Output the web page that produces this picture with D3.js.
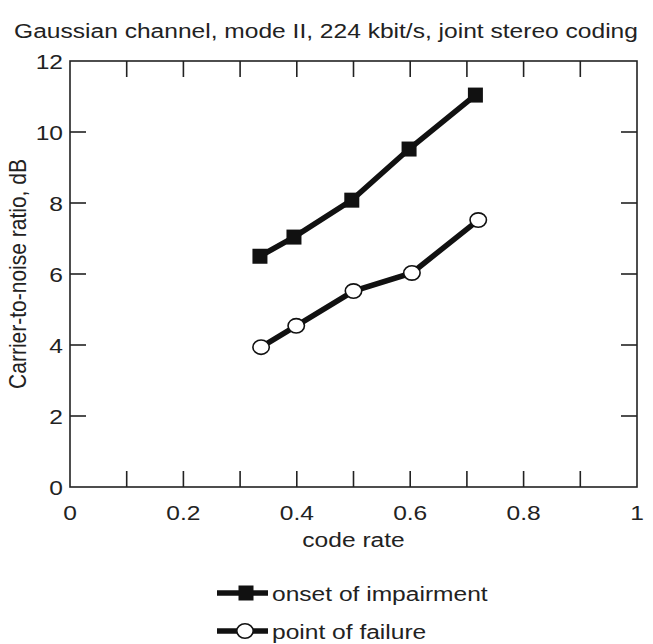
<!DOCTYPE html>
<html>
<head>
<meta charset="utf-8">
<script src="https://cdn.jsdelivr.net/npm/d3@7/dist/d3.min.js"></script>
<style>
  body { margin: 0; background: #fff; }
  text { font-family: "Liberation Sans", Arial, sans-serif; fill: #222; }
</style>
</head>
<body>
<svg width="653" height="644"></svg>
<script>
// data
var rateImpair = [0.335, 0.395, 0.497, 0.598, 0.715];
var cnrImpair  = [6.5, 7.04, 8.08, 9.52, 11.04];
var rateFail   = [0.337, 0.399, 0.5, 0.603, 0.72];
var cnrFail    = [3.94, 4.54, 5.52, 6.03, 7.52];
var xTicks  = [0.1, 0.2, 0.3, 0.4, 0.5, 0.6, 0.7, 0.8, 0.9];
var xLabels = [0, 0.2, 0.4, 0.6, 0.8, 1];
var yTicks  = [2, 4, 6, 8, 10];
var yLabels = [0, 2, 4, 6, 8, 10, 12];
var seriesNames = ["onset of impairment", "point of failure"];

var svg = d3.select("svg"),
    margin = {top: 61, right: 16, bottom: 157, left: 70},
    width = 653 - margin.left - margin.right,
    height = 644 - margin.top - margin.bottom,
    stretch = 1.17,   // the reference text is horizontally widened
    fs = 21;

var x = d3.scaleLinear().domain([0, 1]).range([0, width]);
var y = d3.scaleLinear().domain([0, 12]).range([height, 0]);

var g = svg.append("g")
    .attr("transform", "translate(" + margin.left + "," + margin.top + ")");

function label(sel, px, py, txt, anchor, rot) {
  return sel.append("text")
    .attr("transform", "translate(" + px + "," + py + ") scale(" + stretch + ",1)" + (rot ? " rotate(" + rot + ")" : ""))
    .attr("text-anchor", anchor || "middle")
    .style("font-size", fs + "px")
    .text(txt);
}

// frame
g.append("rect")
    .attr("width", width).attr("height", height)
    .attr("fill", "none").attr("stroke", "#222").attr("stroke-width", 1.6);

// inward ticks
var tl = 16;
g.selectAll(".xtb").data(xTicks).enter().append("line")
    .attr("x1", function(d) { return x(d); }).attr("x2", function(d) { return x(d); })
    .attr("y1", height).attr("y2", height - tl);
g.selectAll(".xtt").data(xTicks).enter().append("line")
    .attr("x1", function(d) { return x(d); }).attr("x2", function(d) { return x(d); })
    .attr("y1", 0).attr("y2", tl);
g.selectAll(".ytl").data(yTicks).enter().append("line")
    .attr("x1", 0).attr("x2", tl)
    .attr("y1", function(d) { return y(d); }).attr("y2", function(d) { return y(d); });
g.selectAll(".ytr").data(yTicks).enter().append("line")
    .attr("x1", width).attr("x2", width - tl)
    .attr("y1", function(d) { return y(d); }).attr("y2", function(d) { return y(d); });
g.selectAll("line").attr("stroke", "#222").attr("stroke-width", 1.6);

// tick labels
xLabels.forEach(function(d) { label(g, x(d), height + 33, String(d)); });
yLabels.forEach(function(d) { label(g, -7, y(d) + 7.5, String(d), "end"); });

// titles
label(svg, 326, 38, "Gaussian channel, mode II, 224 kbit/s, joint stereo coding");
label(g, width / 2, 486, "code rate");
label(svg, 26, margin.top + height / 2, "Carrier-to-noise ratio, dB", "middle", -90);

// series
var impair = rateImpair.map(function(d, i) { return [d, cnrImpair[i]]; });
var fail = rateFail.map(function(d, i) { return [d, cnrFail[i]]; });
var line = d3.line().x(function(d) { return x(d[0]); }).y(function(d) { return y(d[1]); });

[impair, fail].forEach(function(s) {
  g.append("path").datum(s)
    .attr("d", line).attr("fill", "none")
    .attr("stroke", "#111").attr("stroke-width", 5.5);
});

var sq = 15;
g.selectAll(".sq").data(impair).enter().append("rect")
    .attr("x", function(d) { return x(d[0]) - sq / 2; })
    .attr("y", function(d) { return y(d[1]) - sq / 2; })
    .attr("width", sq).attr("height", sq)
    .attr("fill", "#111");
g.selectAll(".ci").data(fail).enter().append("ellipse")
    .attr("cx", function(d) { return x(d[0]); })
    .attr("cy", function(d) { return y(d[1]); })
    .attr("rx", 8.2).attr("ry", 7.2)
    .attr("fill", "#fff").attr("stroke", "#111").attr("stroke-width", 1.6);

// legend
var leg = svg.append("g");
seriesNames.forEach(function(name, i) {
  var ly = 593 + i * 38;
  leg.append("line").attr("x1", 217).attr("x2", 268).attr("y1", ly).attr("y2", ly)
    .attr("stroke", "#111").attr("stroke-width", 5.5);
  if (i === 0) {
    leg.append("rect").attr("x", 246 - sq / 2).attr("y", ly - sq / 2)
      .attr("width", sq).attr("height", sq).attr("fill", "#111");
  } else {
    leg.append("ellipse").attr("cx", 245).attr("cy", ly).attr("rx", 8.2).attr("ry", 7.2)
      .attr("fill", "#fff").attr("stroke", "#111").attr("stroke-width", 1.6);
  }
  label(leg, 272, ly + 8, name, "start");
});
</script>
</body>
</html>
